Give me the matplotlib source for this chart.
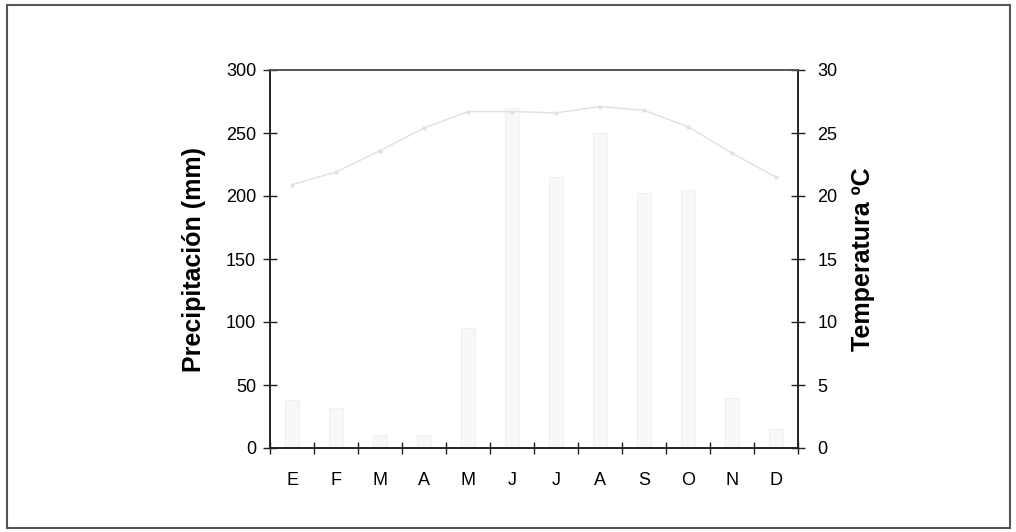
import matplotlib
matplotlib.use("Agg")
import matplotlib.pyplot as plt
from matplotlib.patches import Rectangle
import numpy as np

months = ["E", "F", "M", "A", "M", "J", "J", "A", "S", "O", "N", "D"]
precip_mm = [38, 32, 10, 10, 95, 270, 215, 250, 202, 205, 40, 15]
temp_c = [20.9, 21.9, 23.6, 25.4, 26.7, 26.7, 26.6, 27.1, 26.8, 25.5, 23.4, 21.5]
precip_ticks = [0, 50, 100, 150, 200, 250, 300]
temp_ticks = [0, 5, 10, 15, 20, 25, 30]

plt.rcParams['font.family'] = ['Liberation Sans', 'DejaVu Sans']

fig = plt.figure(figsize=(10.16, 5.32), dpi=100)
ax = fig.add_axes([270/1016, 1-448/532, (798-270)/1016, (448-70)/532])
ax2 = ax.twinx()

x = np.arange(len(months))
ax.bar(x, precip_mm, width=0.3, color='#f8f8f8', edgecolor='#f1f1f1', linewidth=0.8, zorder=2)
ax.set_ylim(0, 300)
ax.set_xlim(-0.5, 11.5)
ax.set_yticks(precip_ticks)
ax.set_xticks(np.arange(-0.5, 12, 1))
ax.set_xticklabels([])
ax.set_xticks(x, minor=True)
ax.set_xticklabels(months, minor=True)
ax.tick_params(axis='x', which='minor', length=0, pad=17, labelsize=13)
ax.tick_params(axis='x', which='major', direction='inout', length=8, width=1, color='#222')
ax.tick_params(axis='y', direction='inout', length=10, width=1, color='#222', labelsize=13, pad=5)
ax.set_ylabel("Precipitación (mm)", fontsize=18, fontweight='bold', labelpad=14)

ax2.plot(x, temp_c, color='#e0e0e0', linewidth=1.0, marker='o', markersize=2.0,
         markerfacecolor='#e0e0e0', markeredgecolor='#e0e0e0', zorder=3)
ax2.set_ylim(0, 30)
ax2.set_yticks(temp_ticks)
ax2.tick_params(axis='y', direction='inout', length=10, width=1, color='#222', labelsize=13, pad=9)
ax2.set_ylabel("Temperatura ºC", fontsize=18, fontweight='bold', labelpad=10)

for a in (ax, ax2):
    for s in a.spines.values():
        s.set_color('#222')
        s.set_linewidth(1.2)
ax.spines['top'].set_color('#555')
ax2.spines['top'].set_color('#555')

fig.patches.append(Rectangle((7/1016, 1-528/532), (1010-7)/1016, (528-5)/532,
                             transform=fig.transFigure, fill=False,
                             edgecolor='#555', linewidth=1.5))

fig.savefig("out.png", dpi=100)
